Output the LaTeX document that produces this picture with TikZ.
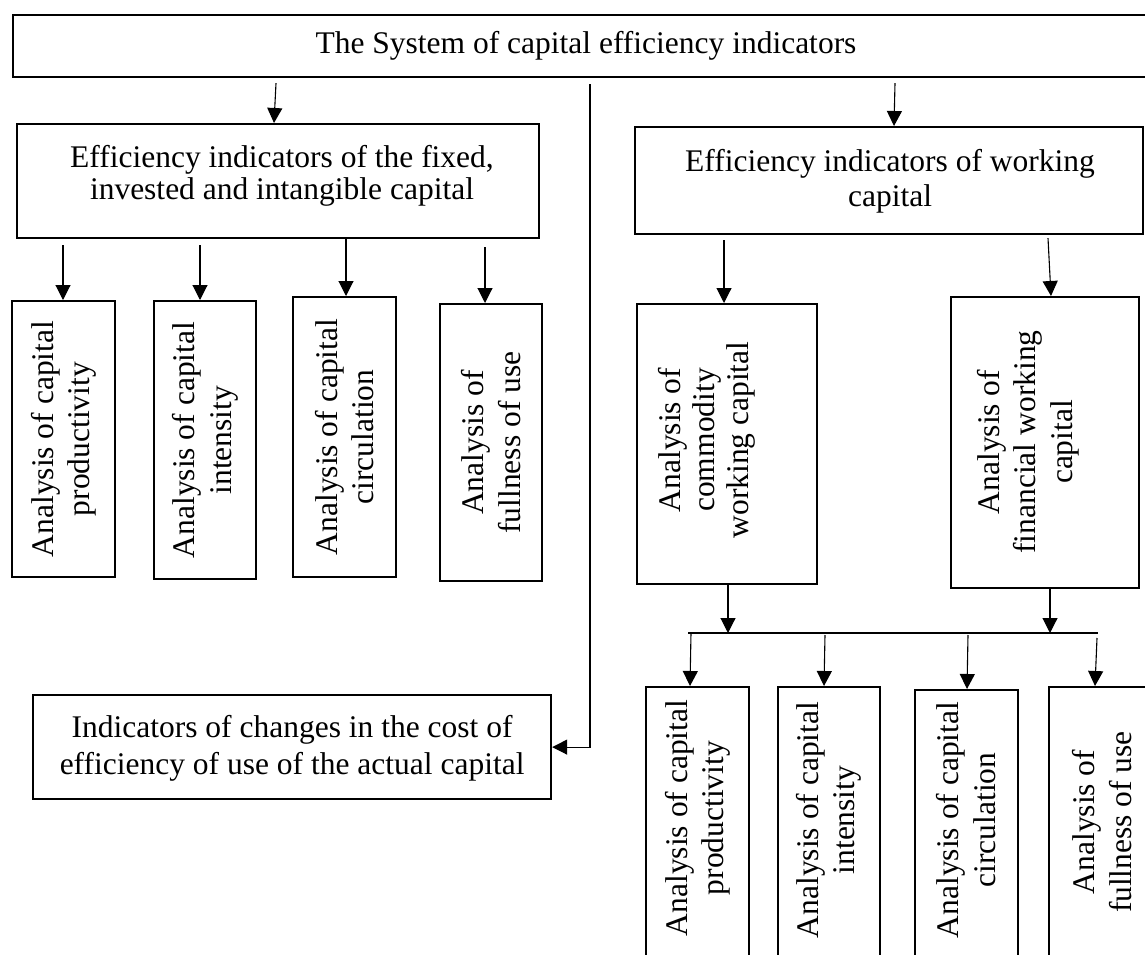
\documentclass[tikz,border=0pt]{standalone}
\usepackage{fontspec}
\setmainfont{Liberation Serif}
\usetikzlibrary{arrows.meta,calc}
\begin{document}
\begin{tikzpicture}[x=1pt,y=-1pt,
  bx/.style={draw, line width=2.2pt, anchor=north west, inner sep=0pt},
  txt/.style={font=\fontsize{31.5}{35}\selectfont, align=center, inner sep=0pt},
  vtxt/.style={font=\fontsize{31.5}{36.5}\selectfont, align=center, inner sep=0pt, rotate=90},
  arr/.style={line width=1.1pt, -{Triangle[length=15pt,width=15pt]}},
  ln/.style={line width=1.1pt}]
\useasboundingbox (0,0) rectangle (1145,955);
\clip (0,0) rectangle (1145,955);
% boxes
\node[bx, minimum width=1160pt, minimum height=62pt] (top) at (12,14) {};
\node[bx, minimum width=522pt, minimum height=114pt] (fixed) at (16,123) {};
\node[bx, minimum width=508pt, minimum height=107pt] (work) at (634,126) {};
\node[bx, minimum width=103pt, minimum height=276pt] (a1) at (11,300) {};
\node[bx, minimum width=102pt, minimum height=278pt] (a2) at (153,300) {};
\node[bx, minimum width=103pt, minimum height=280pt] (a3) at (292,296) {};
\node[bx, minimum width=102pt, minimum height=277pt] (a4) at (439,303) {};
\node[bx, minimum width=180pt, minimum height=280pt] (comm) at (636,303) {};
\node[bx, minimum width=188pt, minimum height=291pt] (fin) at (950,296) {};
\node[bx, minimum width=518pt, minimum height=104pt] (ind) at (32,694) {};
\node[bx, minimum width=103pt, minimum height=290pt] (b1) at (645,686) {};
\node[bx, minimum width=102pt, minimum height=290pt] (b2) at (777,686) {};
\node[bx, minimum width=103pt, minimum height=287pt] (b3) at (914,689) {};
\node[bx, minimum width=108pt, minimum height=290pt] (b4) at (1048,686) {};
% texts
\node[txt] (toptxt) at (586,46) {The System of capital efficiency indicators};
\node[txt, font=\fontsize{31.5}{32}\selectfont] (fixedtxt) at (282,176) {Efficiency indicators of the fixed,\\invested and intangible capital};
\node[txt] (worktxt) at (890,181) {Efficiency indicators of working\\capital};
\node[txt, font=\fontsize{31.5}{37}\selectfont] (indtxt) at ($(ind.center)+(0,1)$) {Indicators of changes in the cost of\\efficiency of use of the actual capital};
\node[vtxt] (a1txt) at (a1.center) {Analysis of capital\\productivity};
\node[vtxt] (a2txt) at (a2.center) {Analysis of capital\\intensity};
\node[vtxt] (a3txt) at (a3.center) {Analysis of capital\\circulation};
\node[vtxt] (a4txt) at (a4.center) {Analysis of\\fullness of use};
\node[vtxt, font=\fontsize{31.5}{34}\selectfont] (commtxt) at (707,440) {Analysis of\\commodity\\working capital};
\node[vtxt] (fintxt) at (1028,442) {Analysis of\\financial working\\capital};
\node[vtxt] (b1txt) at (698,818) {Analysis of capital\\productivity};
\node[vtxt] (b2txt) at (829,820) {Analysis of capital\\intensity};
\node[vtxt] (b3txt) at (966,820) {Analysis of capital\\circulation};
\node[vtxt] (b4txt) at (1102,822) {Analysis of\\fullness of use};
% connectors from top
\draw[arr] ($(top.south west)+(264,5)$) -- ($(fixed.north west)+(258,0)$);
\draw[arr] ($(top.south west)+(883,5)$) -- ($(work.north west)+(260,0)$);
\draw[arr] ($(top.south west)+(578,6)$) |- (ind.east);
% fixed -> analyses
\draw[arr] ($(fixed.south west)+(47,6)$) -- ($(a1.north west)+(52,0)$);
\draw[arr] ($(fixed.south west)+(184,6)$) -- ($(a2.north west)+(47,0)$);
\draw[arr] ($(fixed.south west)+(330,0)$) -- ($(a3.north west)+(54,0)$);
\draw[arr] ($(fixed.south west)+(469,8)$) -- ($(a4.north west)+(46,0)$);
% working -> commodity, financial
\draw[arr] ($(work.south west)+(90,5)$) -- ($(comm.north west)+(88,0)$);
\draw[arr] ($(work.south west)+(414,3)$) -- ($(fin.north west)+(101,0)$);
% bar
\coordinate (barL) at (688,633);
\coordinate (barR) at (1098,633);
\coordinate (commout) at ($(comm.south west)+(92,0)$);
\coordinate (finout) at ($(fin.south west)+(100,0)$);
\draw[ln] (barL) -- (barR);
\draw[arr] (commout) -- (commout |- barL);
\draw[arr] (finout) -- (finout |- barL);
\draw[arr] ($(barL)+(3,0)$) -- ($(b1.north west)+(45,0)$);
\draw[arr] ($(barL)+(137,2)$) -- ($(b2.north west)+(47,0)$);
\draw[arr] ($(barL)+(280,2)$) -- ($(b3.north west)+(53,0)$);
\draw[arr] ($(barR)+(-1,5)$) -- ($(b4.north west)+(47,0)$);
\end{tikzpicture}
\end{document}
